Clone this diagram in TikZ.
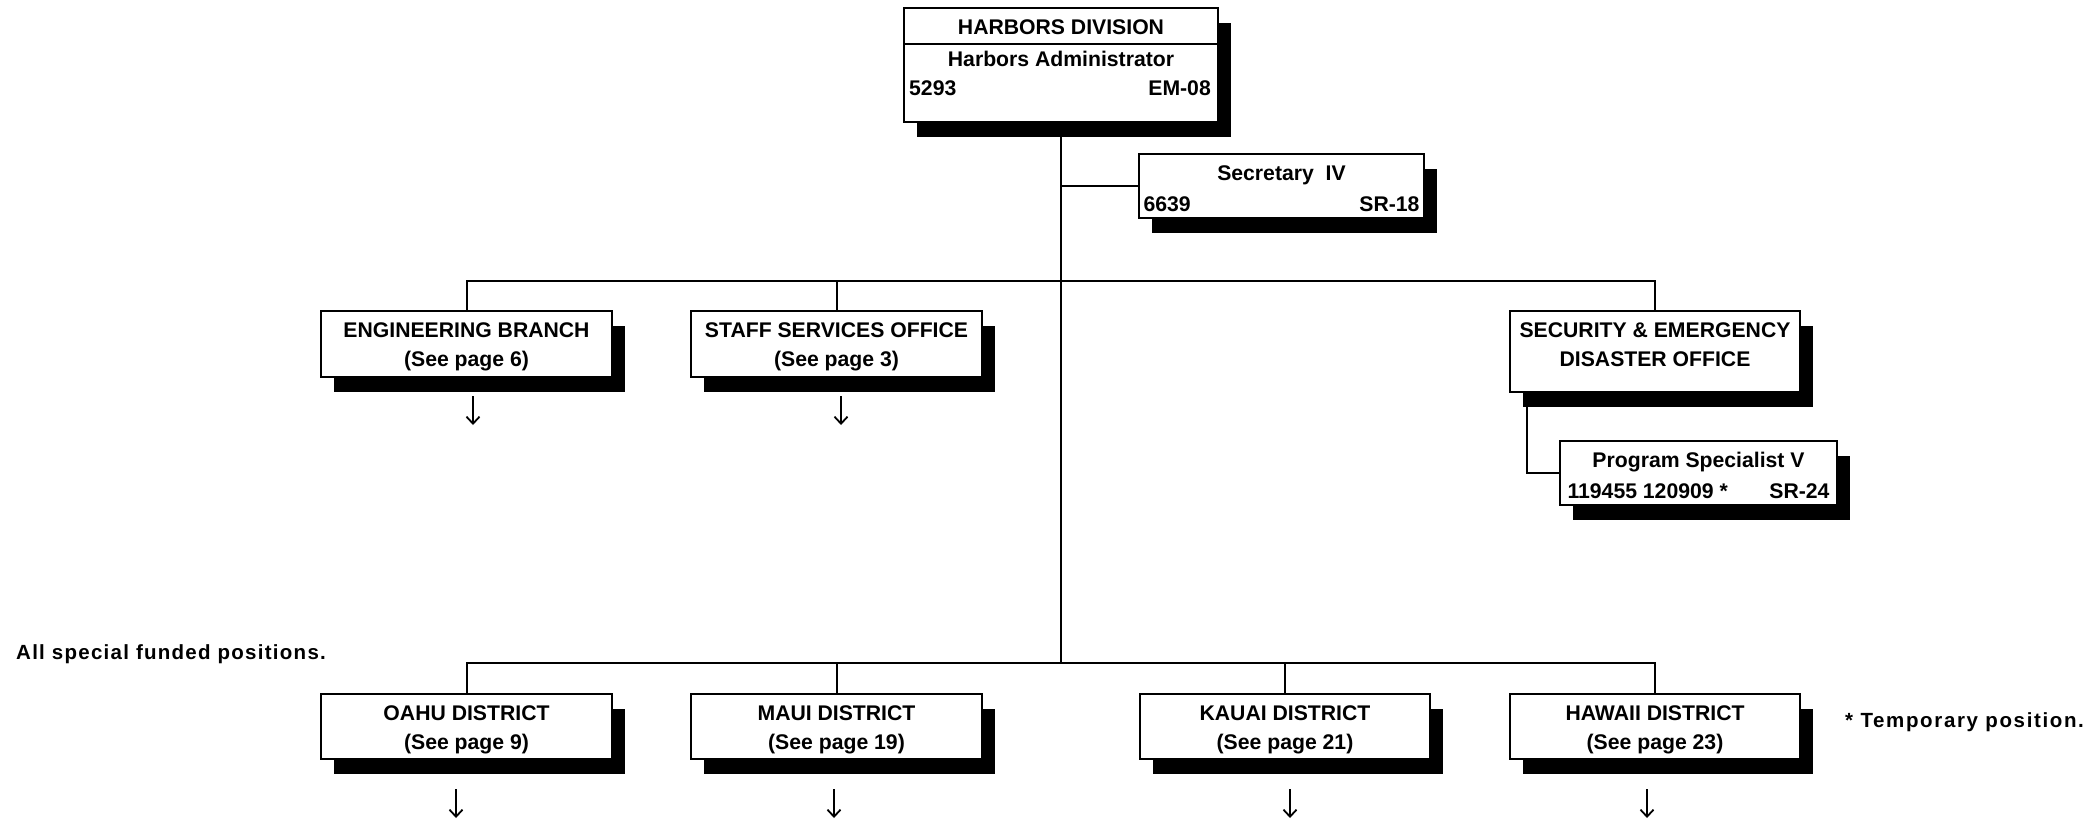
\documentclass[tikz,border=0pt]{standalone}
\usepackage{fontspec}
\setmainfont{Liberation Sans}
\newfontfamily\notefont[LetterSpace=6.2]{Liberation Sans}
\newfontfamily\notefontb[LetterSpace=8.0]{Liberation Sans}
\newcommand\lowstrut{\rule{0pt}{20.5pt}}
\newcommand\distrut{\rule{0pt}{22pt}}
\usetikzlibrary{shadows,arrows.meta}
\begin{document}
\begin{tikzpicture}[x=1pt,y=-1pt,
  every node/.style={font=\fontsize{21.2}{29}\selectfont\bfseries},
  box/.style={draw, line width=2pt, fill=white, inner sep=0pt, align=center,
    drop shadow={shadow xshift=13pt, shadow yshift=-15pt, fill=black, opacity=1}},
  posbox/.style={box, font=\fontsize{21.2}{31}\selectfont\bfseries},
  txt/.style={inner sep=0pt},
  note/.style={inner sep=0pt, font=\fontsize{20.5}{29}\selectfont\notefont\bfseries},
  noteb/.style={inner sep=0pt, font=\fontsize{20.5}{29}\selectfont\notefontb\bfseries},
  link/.style={line width=2pt},
  arr/.style={line width=1.8pt, -{Straight Barb[length=7pt,width=13pt,line width=1.8pt]}}]
\useasboundingbox (0,0) rectangle (2096,820);

% top box
\node[box, minimum width=314pt, minimum height=114pt] (hd) at (1061,65) {};
\node[txt] (hdt) at (1061,27) {HARBORS DIVISION};
\node[txt] (hat) at (1061,59) {Harbors Administrator};
\node[txt, anchor=west] (hn) at (909,88) {5293};
\node[txt, anchor=east] (hg) at (1211,88) {EM-08};
\draw[link] (hd.west |- 0,44) -- (hd.east |- 0,44);

% secretary
\node[posbox, minimum width=285pt, minimum height=64pt] (sec) at (1281.5,186)
  {\lowstrut Secretary~~IV\\\makebox[276pt]{6639\hfill SR-18}};

% branches
\node[box, minimum width=291pt, minimum height=66pt] (eng) at (466.5,344)
  {\lowstrut ENGINEERING BRANCH\\(See page 6)};
\node[box, minimum width=291pt, minimum height=66pt] (stf) at (836.5,344)
  {\lowstrut STAFF SERVICES OFFICE\\(See page 3)};
\node[box, minimum width=290pt, minimum height=81pt, text depth=14.5pt] (sem) at (1655,351.5)
  {SECURITY \& EMERGENCY\\DISASTER OFFICE};
\node[posbox, minimum width=277pt, minimum height=64pt] (ps) at (1698.5,473)
  {\lowstrut Program Specialist V\\\makebox[262pt]{119455 120909 *\hfill SR-24}};

% districts
\node[box, minimum width=291pt, minimum height=65pt] (oahu) at (466.5,726.5)
  {\distrut OAHU DISTRICT\\(See page 9)};
\node[box, minimum width=291pt, minimum height=65pt] (maui) at (836.5,726.5)
  {\distrut MAUI DISTRICT\\(See page 19)};
\node[box, minimum width=290pt, minimum height=65pt] (kauai) at (1285,726.5)
  {\distrut KAUAI DISTRICT\\(See page 21)};
\node[box, minimum width=290pt, minimum height=65pt] (hawaii) at (1655,726.5)
  {\distrut HAWAII DISTRICT\\(See page 23)};

% notes
\node[note, anchor=west] (n1) at (16,654) {All special funded positions.};
\node[noteb, anchor=west] (n2) at (1845,722) {* Temporary position.};

% connectors
\coordinate (tj) at (1061,281);
\coordinate (bj) at (1061,663);
\draw[link] (hd.south) -- (bj);
\draw[link] (hd.south |- sec.west) -- (sec.west);
\draw[link] (eng.north) -- (eng.north |- tj) -- (sem.north |- tj) -- (sem.north);
\draw[link] (stf.north) -- (stf.north |- tj);
\draw[link] ([xshift=18pt]sem.south west) |- (ps.west);
\draw[link] (oahu.north) -- (oahu.north |- bj) -- (hawaii.north |- bj) -- (hawaii.north);
\draw[link] (maui.north) -- (maui.north |- bj);
\draw[link] (kauai.north) -- (kauai.north |- bj);

% down arrows
\coordinate (a1s) at (473,396); \coordinate (a1e) at (473,425);
\coordinate (a2s) at (841,396); \coordinate (a2e) at (841,425);
\coordinate (a3s) at (456,789); \coordinate (a3e) at (456,818);
\coordinate (a4s) at (834,789); \coordinate (a4e) at (834,818);
\coordinate (a5s) at (1290,789); \coordinate (a5e) at (1290,818);
\coordinate (a6s) at (1647,789); \coordinate (a6e) at (1647,818);
\foreach \i in {1,...,6} {\draw[arr] (a\i s) -- (a\i e);}
\end{tikzpicture}
\end{document}
